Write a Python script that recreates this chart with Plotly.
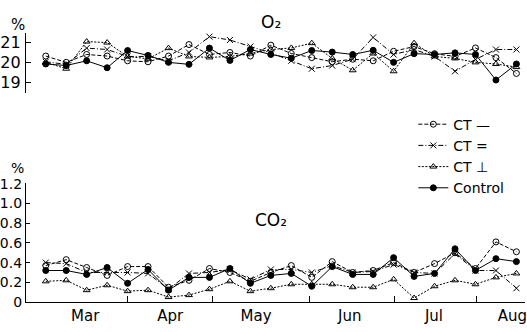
import plotly.graph_objects as go

# sampling occasions (weekly, Mar–Aug)
samples = list(range(24))

# O2 (%)
o2_ct_line = [20.32, 20.0, 20.4, 20.32, 20.08, 20.03, 20.32, 20.9, 20.4, 20.5, 20.32, 20.87,
              20.45, 20.24, 20.03, 20.16, 20.08, 20.56, 20.8, 20.44, 20.3, 20.73, 20.24, 19.44]
o2_ct_double = [20.03, 19.9, 20.72, 20.65, 20.3, 20.3, 20.08, 20.5, 21.3, 21.13, 20.8, 20.48,
                20.08, 19.68, 19.84, 20.16, 21.26, 20.4, 20.65, 20.3, 19.55, 20.15, 20.65, 20.65]
o2_ct_perp = [20.0, 19.68, 21.05, 21.0, 20.3, 20.18, 20.72, 20.3, 20.25, 20.3, 20.45, 20.65,
              20.73, 20.97, 20.2, 19.6, 20.45, 19.55, 20.97, 20.3, 20.2, 20.0, 19.92, 19.76]
o2_control = [19.92, 19.84, 20.08, 19.73, 20.6, 20.35, 20.0, 19.9, 20.72, 20.1, 20.65, 20.4,
              20.21, 20.6, 20.52, 20.4, 20.61, 20.0, 20.44, 20.4, 20.48, 20.4, 19.11, 19.92]

# CO2 (%)
co2_ct_line = [0.37, 0.43, 0.35, 0.27, 0.36, 0.36, 0.15, 0.22, 0.34, 0.30, 0.21, 0.30,
               0.37, 0.25, 0.41, 0.30, 0.32, 0.40, 0.30, 0.39, 0.50, 0.34, 0.61, 0.51]
co2_ct_double = [0.40, 0.39, 0.30, 0.30, 0.30, 0.29, 0.13, 0.29, 0.30, 0.33, 0.23, 0.33,
                 0.33, 0.30, 0.37, 0.30, 0.31, 0.38, 0.30, 0.29, 0.49, 0.32, 0.32, 0.14]
co2_ct_perp = [0.21, 0.22, 0.12, 0.17, 0.11, 0.12, 0.05, 0.07, 0.13, 0.21, 0.11, 0.14,
               0.18, 0.18, 0.18, 0.15, 0.15, 0.23, 0.04, 0.16, 0.22, 0.18, 0.25, 0.29]
co2_control = [0.32, 0.32, 0.28, 0.35, 0.19, 0.33, 0.12, 0.25, 0.25, 0.34, 0.19, 0.27,
               0.29, 0.16, 0.36, 0.28, 0.28, 0.45, 0.26, 0.29, 0.54, 0.32, 0.44, 0.41]

series_names = ["CT \u2014", "CT =", "CT \u22a5", "Control"]
month_labels = ["Mar", "Apr", "May", "Jun", "Jul", "Aug"]
month_label_pos = [1.93, 6.08, 10.28, 14.86, 18.97, 22.8]
month_bounds = [4.0, 8.14, 12.9, 17.04, 21.07]
o2_ticks = [19, 20, 21]
co2_ticks = [0, 0.2, 0.4, 0.6, 0.8, 1.0, 1.2]
co2_ticktext = ["0", "0.2", "0.4", "0.6", "0.8", "1.0", "1.2"]

styles = [
    dict(dash="4px,2px", symbol="circle-open"),
    dict(dash="5px,2px,1px,2px", symbol="x-thin-open"),
    dict(dash="2px,1.5px", symbol="triangle-up-open"),
    dict(dash="solid", symbol="circle"),
]

FONT = "DejaVu Sans"
W, H = 527, 332
ML, MR, MT, MB = 22, 0, 0, 30
plot_w = W - ML - MR
plot_h = H - MT - MB

fig = go.Figure()
o2_sets = [o2_ct_line, o2_ct_double, o2_ct_perp, o2_control]
co2_sets = [co2_ct_line, co2_ct_double, co2_ct_perp, co2_control]

for name, vals, st in zip(series_names, o2_sets, styles):
    fig.add_trace(go.Scatter(
        x=samples, y=vals, mode="lines+markers", name=name, showlegend=False,
        xaxis="x", yaxis="y",
        line=dict(color="black", width=1, dash=st["dash"]),
        marker=dict(symbol=st["symbol"], size=6, color="black",
                    line=dict(color="black", width=1)),
    ))

for name, vals, st in zip(series_names, co2_sets, styles):
    fig.add_trace(go.Scatter(
        x=samples, y=vals, mode="lines+markers", name=name, showlegend=True,
        xaxis="x2", yaxis="y2",
        line=dict(color="black", width=1, dash=st["dash"]),
        marker=dict(symbol=st["symbol"], size=6, color="black",
                    line=dict(color="black", width=1)),
    ))


def px_to_paper(px, py):
    return (px - ML) / plot_w, 1 - (py - MT) / plot_h


ann = []
for text, px, py, size in [("O\u2082", 270, 15, 17), ("CO\u2082", 270, 218, 17),
                           ("%", 14, 18, 15), ("%", 13, 165, 14)]:
    xp, yp = px_to_paper(px, py)
    ann.append(dict(text=text, x=xp, y=yp, xref="paper", yref="paper",
                    showarrow=False, font=dict(size=size), xanchor="center",
                    yanchor="middle"))

xrange = [-0.965, 23.42]
o2_top, o2_bot = px_to_paper(0, 26.7)[1], px_to_paper(0, 88.3)[1]
co2_top = px_to_paper(0, 180)[1]
legend_x, legend_y = px_to_paper(414, 104)

fig.update_layout(
    width=W, height=H,
    margin=dict(l=ML, r=MR, t=MT, b=MB),
    paper_bgcolor="white", plot_bgcolor="white",
    font=dict(family=FONT, color="black", size=14),
    xaxis=dict(domain=[0, 1], range=xrange, anchor="y", visible=False),
    yaxis=dict(domain=[o2_bot, o2_top], range=[18.44, 21.48], anchor="x",
               tickvals=o2_ticks, ticks="inside", ticklen=5, tickcolor="black",
               showline=True, linecolor="black", linewidth=1.3, showgrid=False,
               zeroline=False, tickfont=dict(size=16), ticklabelstandoff=1),
    xaxis2=dict(domain=[0, 1], range=xrange, anchor="y2",
                tickvals=month_label_pos, ticktext=month_labels, ticks="",
                tickfont=dict(size=15), showline=True, linecolor="black",
                linewidth=1.3, showgrid=False, zeroline=False,
                ticklabeloverflow="allow",
                minor=dict(tickvals=month_bounds, ticks="inside", ticklen=6,
                           tickcolor="black", showgrid=False)),
    yaxis2=dict(domain=[0, co2_top], range=[0, 1.21], anchor="x2",
                tickvals=co2_ticks, ticktext=co2_ticktext, ticks="inside",
                ticklen=4, tickcolor="black", showline=True, linecolor="black",
                linewidth=1.3, showgrid=False, zeroline=False,
                tickfont=dict(size=14), ticklabelstandoff=0),
    legend=dict(x=legend_x, xanchor="left", y=legend_y, yanchor="top",
                bgcolor="rgba(0,0,0,0)", font=dict(size=14),
                tracegroupgap=0, itemwidth=30),
    annotations=ann,
)

fig.write_html("out.html", config={"displayModeBar": False},
               post_script="document.body.style.margin='0px';")
